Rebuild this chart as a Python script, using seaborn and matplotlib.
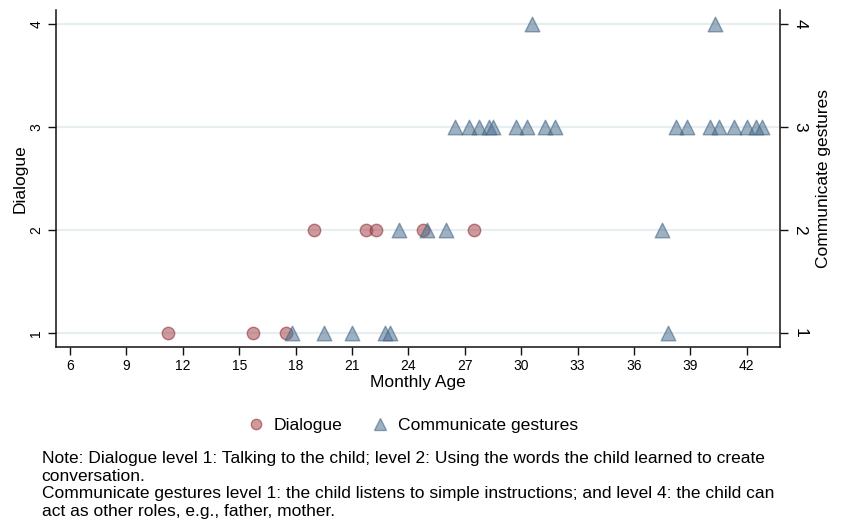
import numpy as np
import pandas as pd
import matplotlib
matplotlib.use("Agg")
import matplotlib.pyplot as plt
from matplotlib.lines import Line2D
import seaborn as sns

# Dialogue observations: monthly age and level
dialogue_age = [11.2, 15.75, 17.5, 19.0, 21.75, 22.3, 24.75, 27.5]
dialogue_level = [1, 1, 1, 2, 2, 2, 2, 2]

# Communicate gestures observations: monthly age and level
gesture_age = [17.8, 19.5, 21.0, 22.75, 23.0, 37.8,
               23.5, 25.0, 26.0, 37.5,
               26.5, 27.25, 27.75, 28.3, 28.5, 29.75, 30.3, 31.25, 31.8,
               38.25, 38.8, 40.05, 40.55, 41.3, 42.0, 42.5, 42.8,
               30.55, 40.3]
gesture_level = [1, 1, 1, 1, 1, 1,
                 2, 2, 2, 2,
                 3, 3, 3, 3, 3, 3, 3, 3, 3,
                 3, 3, 3, 3, 3, 3, 3, 3,
                 4, 4]

x_ticks = list(range(6, 43, 3))
y_ticks = [1, 2, 3, 4]

dialogue_df = pd.DataFrame({"age": dialogue_age, "level": dialogue_level})
gesture_df = pd.DataFrame({"age": gesture_age, "level": gesture_level})

sns.set_theme(style="white")
plt.rcParams["font.family"] = ["Liberation Sans", "DejaVu Sans"]

red_face = "#a5474d"
blue_face = "#4d7191"
ink = "#000000"

fig = plt.figure(figsize=(8.47, 5.25), dpi=100)
ax = fig.add_axes([0.0661, 0.3396, 0.8548, 0.6414])
ax2 = ax.twinx()

for y in y_ticks:
    ax.axhline(y, color="#e7eef2", lw=1.6, zorder=0)

sns.scatterplot(data=dialogue_df, x="age", y="level", ax=ax, marker="o",
                s=80, color=red_face, alpha=0.55, edgecolor="#8b2a30",
                linewidth=1.0, zorder=3, legend=False)
sns.scatterplot(data=gesture_df, x="age", y="level", ax=ax, marker="^",
                s=110, color=blue_face, alpha=0.55, edgecolor="#3f6180",
                linewidth=1.0, zorder=3, legend=False)

xlim = (5.25, 43.77)
ylim = (0.867, 4.136)
ax.set_xlim(*xlim)
ax.set_ylim(*ylim)
ax2.set_ylim(*ylim)

ax.set_xticks(x_ticks)
ax.set_xticklabels([str(t) for t in x_ticks], fontsize=10)
ax.set_yticks(y_ticks)
ax.set_yticklabels([str(t) for t in y_ticks], fontsize=10, rotation=90, va="center")
ax2.set_yticks(y_ticks)
ax2.set_yticklabels([str(t) for t in y_ticks], fontsize=12.5, rotation=-90, va="center")

ax.set_xlabel("Monthly Age", fontsize=12.5, labelpad=1, color=ink)
ax.set_ylabel("Dialogue", fontsize=12.5, labelpad=1, color=ink)
ax2.set_ylabel("Communicate gestures", fontsize=12.5, labelpad=6, color=ink)

for a in (ax, ax2):
    a.spines["top"].set_visible(False)
    for sp in ("left", "right", "bottom"):
        a.spines[sp].set_color("#111111")
        a.spines[sp].set_linewidth(1.1)
    a.grid(False)

ax.spines["right"].set_visible(False)
ax2.spines["left"].set_visible(False)
ax2.spines["bottom"].set_visible(False)

ax.tick_params(axis="x", direction="out", length=6, width=1, color="#111111",
               bottom=True, pad=3, labelcolor=ink)
ax.tick_params(axis="y", direction="out", length=6, width=1, color="#111111",
               left=True, pad=3, labelcolor=ink)
ax2.tick_params(axis="y", direction="out", length=6, width=1, color="#111111",
                right=True, pad=3, labelcolor=ink)

handles = [
    Line2D([], [], marker="o", linestyle="none", markersize=7.5,
           markerfacecolor=red_face, markeredgecolor="#8b2a30", alpha=0.55,
           label="Dialogue"),
    Line2D([], [], marker="^", linestyle="none", markersize=8.5,
           markerfacecolor=blue_face, markeredgecolor="#3f6180", alpha=0.55,
           label="Communicate gestures"),
]
fig.legend(handles=handles, loc="center", bbox_to_anchor=(0.486, 0.19),
           ncol=2, frameon=False, fontsize=12.6, handletextpad=0.43,
           handlelength=1.2, columnspacing=1.55, labelcolor=ink)

note = ("Note: Dialogue level 1: Talking to the child; level 2: Using the words the child learned to create\n"
        "conversation.\n"
        "Communicate gestures level 1: the child listens to simple instructions; and level 4: the child can\n"
        "act as other roles, e.g., father, mother.")
fig.text(0.049, 0.140, note, fontsize=12.5, ha="left", va="top",
         linespacing=1.2, color=ink)

fig.savefig("out.png", dpi=100, facecolor="white")
